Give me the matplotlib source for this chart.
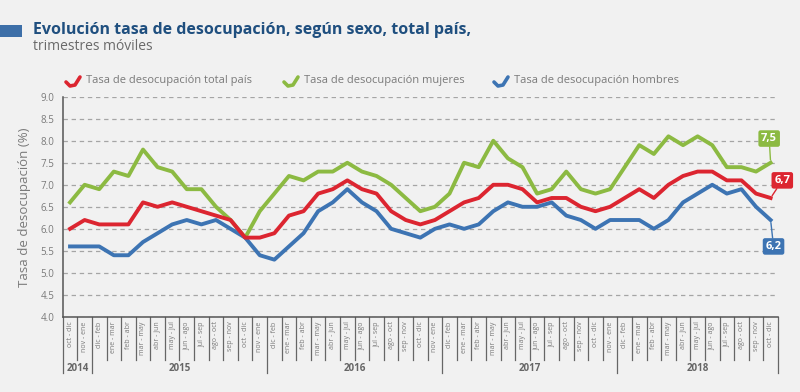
import matplotlib.pyplot as plt
import matplotlib.transforms as mtransforms
from matplotlib.lines import Line2D
from matplotlib.patches import Rectangle
import numpy as np

# Trimestres moviles, oct-dic 2014 a oct-dic 2018
meses = ['oct - dic', 'nov - ene', 'dic - feb', 'ene - mar', 'feb - abr', 'mar - may',
         'abr - jun', 'may - jul', 'jun - ago', 'jul - sep', 'ago - oct', 'sep - nov']
etiquetas = (meses * 5)[:49]
anios = ['2014', '2015', '2016', '2017', '2018']
anio_inicio = [0, 2, 14, 26, 38]

total = [6.0, 6.2, 6.1, 6.1, 6.1, 6.6, 6.5, 6.6, 6.5, 6.4, 6.3, 6.2,
         5.8, 5.8, 5.9, 6.3, 6.4, 6.8, 6.9, 7.1, 6.9, 6.8, 6.4, 6.2,
         6.1, 6.2, 6.4, 6.6, 6.7, 7.0, 7.0, 6.9, 6.6, 6.7, 6.7, 6.5,
         6.4, 6.5, 6.7, 6.9, 6.7, 7.0, 7.2, 7.3, 7.3, 7.1, 7.1, 6.8,
         6.7]
mujeres = [6.6, 7.0, 6.9, 7.3, 7.2, 7.8, 7.4, 7.3, 6.9, 6.9, 6.5, 6.2,
           5.8, 6.4, 6.8, 7.2, 7.1, 7.3, 7.3, 7.5, 7.3, 7.2, 7.0, 6.7,
           6.4, 6.5, 6.8, 7.5, 7.4, 8.0, 7.6, 7.4, 6.8, 6.9, 7.3, 6.9,
           6.8, 6.9, 7.4, 7.9, 7.7, 8.1, 7.9, 8.1, 7.9, 7.4, 7.4, 7.3,
           7.5]
hombres = [5.6, 5.6, 5.6, 5.4, 5.4, 5.7, 5.9, 6.1, 6.2, 6.1, 6.2, 6.0,
           5.8, 5.4, 5.3, 5.6, 5.9, 6.4, 6.6, 6.9, 6.6, 6.4, 6.0, 5.9,
           5.8, 6.0, 6.1, 6.0, 6.1, 6.4, 6.6, 6.5, 6.5, 6.6, 6.3, 6.2,
           6.0, 6.2, 6.2, 6.2, 6.0, 6.2, 6.6, 6.8, 7.0, 6.8, 6.9, 6.5,
           6.2]

ROJO = '#dc2530'
VERDE = '#8cba42'
AZUL = '#3d74b3'
GRIS = '#7a7a7a'
FONDO = '#f1f1f1'

plt.rcParams['font.family'] = ['Open Sans', 'DejaVu Sans']

fig = plt.figure(figsize=(8, 3.92), dpi=100, facecolor=FONDO)
ax = fig.add_axes([0.0784, 0.1916, 0.894, 0.5617], facecolor=FONDO)

x = np.arange(len(total))
ax.plot(x, mujeres, color=VERDE, lw=2.8, solid_joinstyle='round', zorder=3)
ax.plot(x, hombres, color=AZUL, lw=2.8, solid_joinstyle='round', zorder=4)
ax.plot(x, total, color=ROJO, lw=2.8, solid_joinstyle='round', zorder=5)

ax.set_xlim(-0.5, len(total) - 0.5)
ax.set_ylim(4, 9)
ax.set_yticks(np.arange(4, 9.01, 0.5))
ax.set_yticklabels([f'{v:.1f}' for v in np.arange(4, 9.01, 0.5)], fontsize=7, color=GRIS)
ax.tick_params(axis='y', length=0, pad=6)
ax.yaxis.grid(True, ls=(0, (3.5, 3)), color='#a5a5a5', lw=0.9)
ax.set_axisbelow(True)
ax.set_ylabel('Tasa de desocupación (%)', fontsize=9.5, color=GRIS, labelpad=7)
for s in ['top', 'right']:
    ax.spines[s].set_visible(False)
ax.spines['left'].set_color('#555555')
ax.spines['bottom'].set_color('#555555')
ax.spines['left'].set_linewidth(1.1)
ax.spines['bottom'].set_linewidth(1.1)

# eje x: etiquetas rotadas con separadores
ax.set_xticks([])
trans = mtransforms.blended_transform_factory(ax.transData, ax.transAxes)
for i in range(len(total) + 1):
    largo = -0.255 if (i in anio_inicio or i == len(total)) else -0.195
    ax.plot([i - 0.5, i - 0.5], [0, largo], color='#666666', lw=0.9,
            transform=trans, clip_on=False)
for i, et in enumerate(etiquetas):
    ax.text(i, -0.02, et, transform=trans, rotation=90, ha='center', va='top',
            fontsize=5, color=GRIS)
fin = anio_inicio[1:] + [len(total)]
for a, ini, f in zip(anios, anio_inicio, fin):
    ax.text((ini + f - 1) / 2, -0.235, a, transform=trans, ha='center', va='center',
            fontsize=7, fontweight='bold', color='#666666')

# etiquetas de valor final
def etiqueta(valor, texto, color, dx, dy):
    ax.annotate(texto, xy=(x[-1], valor), xytext=(x[-1] + dx, valor + dy),
                textcoords='data', ha='center', va='center', fontsize=8,
                fontweight='bold', color='white', annotation_clip=False, zorder=6,
                bbox=dict(boxstyle='round,pad=0.25,rounding_size=0.2', fc=color, ec='none'),
                arrowprops=dict(arrowstyle='-', color=color, lw=1, shrinkA=0, shrinkB=2))

etiqueta(mujeres[-1], '7,5', VERDE, -0.1, 0.55)
etiqueta(total[-1], '6,7', ROJO, 0.8, 0.4)
etiqueta(hombres[-1], '6,2', AZUL, 0.2, -0.6)

# titulo
fig.patches.append(Rectangle((0.0, 1 - 37 / 392), 22 / 800, 12 / 392,
                             transform=fig.transFigure, fc='#3d6fa8', ec='none'))
fig.text(33 / 800, 1 - 30 / 392, 'Evolución tasa de desocupación, según sexo, total país,',
         fontsize=11.5, fontweight='bold', color='#1f4f7f', va='center',
         family=['Liberation Sans Narrow', 'Open Sans', 'DejaVu Sans'])
fig.text(33 / 800, 1 - 47 / 392, 'trimestres móviles', fontsize=10, color='#6a6a6a',
         va='center')

# leyenda
series = [('Tasa de desocupación total país', ROJO, 66),
          ('Tasa de desocupación mujeres', VERDE, 284),
          ('Tasa de desocupación hombres', AZUL, 494)]
for nombre, color, px in series:
    xs = np.array([0, 4, 9, 14]) + px
    ys = np.array([82, 86, 85, 77])
    fig.lines.append(Line2D(xs / 800, 1 - ys / 392, transform=fig.transFigure,
                            color=color, lw=2.6, solid_capstyle='round'))
    fig.text((px + 20) / 800, 1 - 80 / 392, nombre, fontsize=8, color=GRIS, va='center')

fig.savefig('out.png', dpi=100, facecolor=FONDO)
